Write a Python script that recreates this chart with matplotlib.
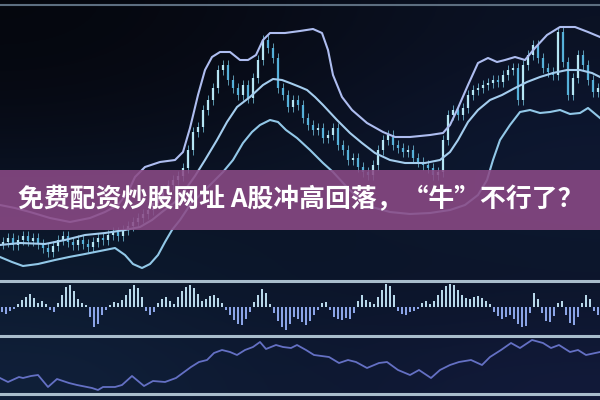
import numpy as np
import matplotlib
matplotlib.use("Agg")
import matplotlib.pyplot as plt
from matplotlib.patches import Rectangle
from matplotlib.colors import to_rgb

# ---------------- data ----------------
title = "免费配资炒股网址 A股冲高回落，“牛”不行了？"

# candle closes (price units, main panel), one every 5 px
closes = [38, 42, 35, 40, 44, 39, 42, 36, 32, 28, 34, 40, 44, 38, 35, 40, 36, 33, 38, 42,
          40, 45, 48, 44, 50, 54, 58, 62, 66, 70, 77, 82, 90, 95, 100, 104, 112, 130, 148, 153,
          170, 180, 192, 210, 215, 200, 192, 185, 195, 182, 202, 220, 240, 232, 222, 192, 185, 173, 180, 175,
          162, 155, 150, 152, 142, 145, 152, 135, 130, 120, 122, 113, 108, 105, 115, 130, 140, 145, 135, 132,
          128, 130, 122, 118, 115, 112, 105, 108, 140, 165, 170, 165, 172, 185, 190, 192, 195, 197, 200, 198,
          205, 210, 212, 180, 215, 225, 235, 222, 212, 208, 205, 248, 218, 185, 202, 225, 215, 200, 188, 192]

# bollinger-style bands (x position, value)
upper_x = [0, 15, 30, 50, 70, 90, 105, 118, 128, 135, 145, 160, 175, 183, 190, 198, 205, 212, 220, 230,
           240, 248, 256, 263, 270, 285, 300, 313, 322, 328, 333, 342, 352, 367, 383, 395, 410, 430, 443, 450,
           458, 468, 478, 488, 497, 505, 515, 525, 535, 547, 560, 575, 588, 600]
upper_v = [75, 72, 68, 62, 58, 62, 68, 75, 88, 103, 113, 118, 120, 128, 152, 185, 210, 223, 228, 228,
           220, 220, 225, 240, 247, 247, 249, 251, 247, 230, 205, 183, 170, 157, 148, 143, 143, 145, 147, 155,
           172, 195, 217, 222, 218, 220, 223, 220, 232, 245, 253, 253, 248, 243]

middle_x = [0, 20, 45, 65, 85, 105, 125, 140, 152, 162, 175, 185, 195, 205, 217, 227, 237, 250, 263, 273,
            282, 290, 300, 307, 315, 323, 337, 350, 362, 375, 390, 405, 425, 440, 450, 458, 468, 478, 490, 502,
            515, 527, 540, 553, 567, 580, 592, 600]
middle_v = [35, 37, 36, 40, 45, 47, 50, 53, 60, 68, 78, 90, 104, 120, 140, 158, 173, 183, 195, 201,
            200, 197, 193, 190, 183, 175, 160, 147, 137, 127, 120, 117, 117, 120, 128, 140, 158, 170, 180, 185,
            192, 198, 203, 207, 210, 210, 207, 203]

lower_x = [0, 12, 23, 38, 55, 69, 85, 100, 115, 125, 133, 142, 150, 158, 165, 172, 180, 190, 200, 212,
           223, 233, 243, 252, 260, 270, 278, 286, 297, 310, 323, 333, 345, 358, 372, 390, 410, 430, 450, 465,
           478, 487, 493, 500, 510, 520, 530, 540, 550, 560, 570, 580, 588, 600]
lower_v = [23, 18, 14, 16, 20, 23, 26, 29, 32, 25, 16, 12, 16, 25, 38, 50, 60, 75, 85, 97,
           108, 120, 137, 148, 155, 160, 158, 150, 142, 130, 117, 108, 95, 82, 73, 68, 66, 67, 70, 75,
           85, 100, 120, 140, 155, 168, 170, 167, 168, 170, 166, 167, 172, 162]

# histogram (MACD-like) values, one bar every 4 px
hist = [-5, -7, -4, -2, 3, 7, 10, 13, 9, 4, 6, 3, -3, -5, 4, 12, 20, 22, 16, 8,
        4, 2, -10, -20, -17, -8, -3, 2, 5, 4, 7, 12, 18, 22, 19, 10, -4, -8, -5, 4,
        8, 10, 6, 3, 10, 16, 20, 22, 19, 13, 6, 8, 11, 12, 9, 4, -3, -8, -13, -17,
        -18, -12, -5, 5, 12, 18, 14, 3, -6, -14, -20, -23, -17, -10, -12, -15, -18, -14, -8, -3,
        4, 5, -3, -10, -12, -13, -11, -12, -6, 6, 12, 7, 5, 3, 10, 17, 23, 21, 12, -4,
        -7, -8, -5, -4, -2, 4, 6, 3, 6, 12, 17, 21, 23, 22, 17, 12, 9, 8, 10, 11,
        9, 6, 3, -5, -9, -12, -10, -8, -12, -17, -20, -19, -6, 14, 8, -6, -14, -15, -9, 4,
        6, -8, -16, -18, -10, 4, 12, 8, -4, -8]

# lower oscillator line
osc_x = [0, 8, 19, 23, 31, 38, 48, 57, 69, 77, 92, 98, 103, 115, 122, 132, 144, 153, 165, 176,
         191, 199, 207, 214, 222, 230, 237, 245, 253, 260, 266, 276, 283, 291, 297, 306, 314, 329, 339, 348,
         356, 367, 379, 387, 398, 410, 419, 431, 440, 450, 459, 471, 482, 490, 501, 511, 520, 532, 543, 551,
         559, 570, 578, 586, 600]
osc_v = [22, 18, 23, 22, 24, 25, 13, 21, 17, 15, 12, 10, 13, 13, 15, 24, 14, 19, 18, 22,
         33, 38, 40, 47, 50, 48, 45, 50, 53, 58, 51, 55, 53, 52, 55, 50, 45, 43, 37, 40,
         38, 32, 37, 38, 30, 25, 30, 22, 30, 35, 38, 40, 35, 43, 50, 57, 52, 60, 57, 52,
         55, 48, 50, 45, 48]

# ---------------- figure ----------------
fig = plt.figure(figsize=(6, 4), dpi=100)

# background gradient
bg = fig.add_axes([0, 0, 1, 1])
bg.set_xlim(0, 600)
bg.set_ylim(400, 0)
bg.axis("off")
rows = [["#05070e", "#080c18", "#0b1224"],
        ["#070b16", "#0a1020", "#0d1630"],
        ["#0b1528", "#0c1628", "#0e1a32"],
        ["#0c1a2e", "#0b1428", "#0b1428"],
        ["#10203a", "#0d1830", "#121a3a"]]
grad = np.array([[to_rgb(c) for c in r] for r in rows])
bg.imshow(grad, extent=(0, 600, 400, 0), aspect="auto", interpolation="bicubic", zorder=0)
bg.axhline(5, color="#5d6e80", lw=1.5, zorder=1)
for yy in (281, 336, 394):
    bg.axhline(yy, color="#a9bdcc", lw=2.2, zorder=1)

# main panel
ax = fig.add_axes([0, 120 / 400, 1, 280 / 400])
ax.set_xlim(0, 600)
ax.set_ylim(0, 280)
ax.axis("off")
ax.patch.set_alpha(0)

c = np.array(closes, dtype=float)
o = np.r_[c[0], c[:-1]]
xs = 2.5 + 5 * np.arange(len(c))
top = np.maximum(o, c)
bot = np.minimum(o, c)
bot = np.where(top - bot < 2, top - 2, bot)
up = c >= o
ax.vlines(xs, bot - 5, top + 5, color="#7fd4f0", lw=0.6, alpha=0.8, zorder=2)
ax.vlines(xs[up], bot[up], top[up], color="#bdeefc", lw=1.6, alpha=0.95, zorder=3)
ax.vlines(xs[~up], bot[~up], top[~up], color="#58b6e0", lw=1.6, alpha=0.95, zorder=3)

ax.plot(upper_x, upper_v, color="#aebdf0", lw=1.5, zorder=4)
ax.plot(middle_x, middle_v, color="#a4cdee", lw=1.5, zorder=4)
ax.plot(lower_x, lower_v, color="#92c8e8", lw=1.5, zorder=4)

# histogram panel
hx = fig.add_axes([0, (400 - 334) / 400, 1, 52 / 400])
hx.set_xlim(0, 600)
hx.set_ylim(-27, 25)
hx.axis("off")
hx.patch.set_alpha(0)
h = np.array(hist, dtype=float)
bx = 2 + 4 * np.arange(len(h))
cols = ["#b8d8ea" if v >= 0 else "#8ba4e6" for v in h]
hx.bar(bx, h, width=1.5, color=cols, zorder=2)

# oscillator panel
ox = fig.add_axes([0, (400 - 392) / 400, 1, 54 / 400])
ox.set_xlim(0, 600)
ox.set_ylim(8, 62)
ox.axis("off")
ox.patch.set_alpha(0)
ox.plot(osc_x, osc_v, color="#6470c4", lw=1.3)

# banner overlay
ov = fig.add_axes([0, 0, 1, 1])
ov.set_xlim(0, 600)
ov.set_ylim(400, 0)
ov.axis("off")
ov.patch.set_alpha(0)
ov.add_patch(Rectangle((0, 170), 600, 60, facecolor="#8b4a86", alpha=0.88, edgecolor="none"))
ov.text(301, 200, title, ha="center", va="center", color="white", fontsize=18.6,
        fontweight="bold", family=["Noto Sans CJK SC", "DejaVu Sans"])

fig.savefig("out.png", dpi=100)
